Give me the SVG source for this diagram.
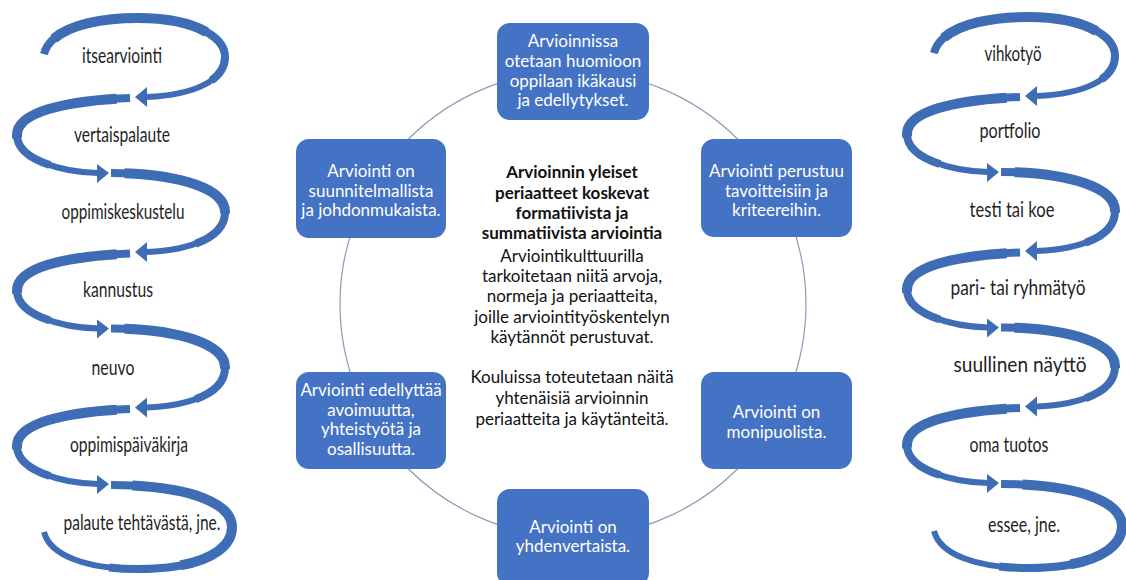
<svg xmlns="http://www.w3.org/2000/svg" xmlns:xlink="http://www.w3.org/1999/xlink" width="1126" height="580" viewBox="0 0 1126 580">
<style>
.w6{fill:none;stroke:#3f6db5;stroke-width:6;stroke-linecap:butt}
.w8{fill:none;stroke:#3f6db5;stroke-width:8;stroke-linecap:butt;stroke-dasharray:78 100}
.w10{fill:none;stroke:#3f6db5;stroke-width:10;stroke-linecap:butt;stroke-dasharray:0 6 52 100}
.head{fill:#3f6db5}
.lbl{font-family:Lato,"Open Sans","Liberation Sans",sans-serif;font-size:22px;fill:#1f1f1f;text-anchor:middle}
.box{fill:#4472c4}
.bt{font-family:Lato,"Liberation Sans",sans-serif;font-size:17px;fill:#ffffff;text-anchor:middle}
.ct{font-family:Lato,"Liberation Sans",sans-serif;font-size:17px;fill:#111111;text-anchor:middle}
.cb{font-weight:bold}
.ring{fill:none;stroke:#8a9bb8;stroke-width:1.2}
</style>
<defs>
<g id="ribs">
<path pathLength="100" d="M44,54 C50,30 90,18 138,18 C190,18 225,35 225,57 C225,80 195,95 147,97"/>
<path pathLength="100" d="M130,98 C75,100 17,110 17,135 C17,159 60,172 98,173"/>
<path pathLength="100" d="M111,173 C170,173 225,186 225,212 C225,238 190,250 147,252"/>
<path pathLength="100" d="M130,253.5 C75,255.5 17,265.5 17,290.5 C17,314.5 60,327.5 98,328.5"/>
<path pathLength="100" d="M111,328.5 C170,328.5 225,341.5 225,367.5 C225,393.5 190,405.5 147,407.5"/>
<path pathLength="100" d="M130,409 C75,411 17,421 17,446 C17,470 60,483 98,484"/>
<path pathLength="100" d="M111,485 C180,485 232,500 232,527 C232,553 195,569 138,569 C88,569 50,556 44,532"/>
</g>
<g id="spiral">
<use xlink:href="#ribs" href="#ribs" class="w6"/>
<use xlink:href="#ribs" href="#ribs" class="w8"/>
<use xlink:href="#ribs" href="#ribs" class="w10"/>
<polygon class="head" points="135,97 147,87 147,107"/>
<polygon class="head" points="109,173 97,164 97,183"/>
<polygon class="head" points="135,252 147,242 147,262"/>
<polygon class="head" points="109,328.5 97,319.5 97,338.5"/>
<polygon class="head" points="135,407.5 147,397.5 147,417.5"/>
<polygon class="head" points="109,484 97,475 97,494"/>
</g>
</defs>
<rect width="1126" height="580" fill="#ffffff"/>
<g id="connectors">
<circle class="ring" cx="573" cy="304" r="233"/>
<use xlink:href="#spiral" href="#spiral"/>
<use xlink:href="#spiral" href="#spiral" transform="translate(890,-1)"/>
</g>
<g id="left-labels">
<g id="l1"><text class="lbl" x="122" y="63" textLength="80" lengthAdjust="spacingAndGlyphs">itsearviointi</text></g>
<g id="l2"><text class="lbl" x="122" y="142" textLength="96" lengthAdjust="spacingAndGlyphs">vertaispalaute</text></g>
<g id="l3"><text class="lbl" x="123" y="219" textLength="123" lengthAdjust="spacingAndGlyphs">oppimiskeskustelu</text></g>
<g id="l4"><text class="lbl" x="118" y="297" textLength="70" lengthAdjust="spacingAndGlyphs">kannustus</text></g>
<g id="l5"><text class="lbl" x="113" y="375" textLength="43" lengthAdjust="spacingAndGlyphs">neuvo</text></g>
<g id="l6"><text class="lbl" x="129" y="452" textLength="118" lengthAdjust="spacingAndGlyphs">oppimispäiväkirja</text></g>
<g id="l7"><text class="lbl" x="142" y="530" textLength="157" lengthAdjust="spacingAndGlyphs">palaute tehtävästä, jne.</text></g>
</g>
<g id="right-labels">
<g id="r1"><text class="lbl" x="1013" y="61" textLength="57" lengthAdjust="spacingAndGlyphs">vihkotyö</text></g>
<g id="r2"><text class="lbl" x="1010" y="138" textLength="61" lengthAdjust="spacingAndGlyphs">portfolio</text></g>
<g id="r3"><text class="lbl" x="1012" y="217" textLength="85" lengthAdjust="spacingAndGlyphs">testi tai koe</text></g>
<g id="r4"><text class="lbl" x="1018" y="295" textLength="135" lengthAdjust="spacingAndGlyphs">pari- tai ryhmätyö</text></g>
<g id="r5"><text class="lbl" x="1020" y="372" textLength="133" lengthAdjust="spacingAndGlyphs">suullinen näyttö</text></g>
<g id="r6"><text class="lbl" x="1009" y="452" textLength="79" lengthAdjust="spacingAndGlyphs">oma tuotos</text></g>
<g id="r7"><text class="lbl" x="1024" y="532" textLength="72" lengthAdjust="spacingAndGlyphs">essee, jne.</text></g>
</g>
<g id="box-top">
<rect class="box" x="497" y="23" width="152" height="97" rx="13"/>
<text class="bt" x="573" y="47">Arvioinnissa</text>
<text class="bt" x="573" y="67">otetaan huomioon</text>
<text class="bt" x="573" y="87">oppilaan ikäkausi</text>
<text class="bt" x="573" y="106">ja edellytykset.</text>
</g>
<g id="box-upper-left">
<rect class="box" x="296" y="139" width="150" height="99" rx="13"/>
<text class="bt" x="371" y="177">Arviointi on</text>
<text class="bt" x="371" y="197">suunnitelmallista</text>
<text class="bt" x="371" y="216">ja johdonmukaista.</text>
</g>
<g id="box-upper-right">
<rect class="box" x="701" y="139" width="151" height="98" rx="13"/>
<text class="bt" x="776.5" y="177">Arviointi perustuu</text>
<text class="bt" x="776.5" y="197">tavoitteisiin ja</text>
<text class="bt" x="776.5" y="216">kriteereihin.</text>
</g>
<g id="box-lower-right">
<rect class="box" x="701" y="372" width="151" height="97" rx="13"/>
<text class="bt" x="776.5" y="418">Arviointi on</text>
<text class="bt" x="776.5" y="438">monipuolista.</text>
</g>
<g id="box-lower-left">
<rect class="box" x="296" y="372" width="150" height="97" rx="13"/>
<text class="bt" x="371" y="396">Arviointi edellyttää</text>
<text class="bt" x="371" y="415.5">avoimuutta,</text>
<text class="bt" x="371" y="435">yhteistyötä ja</text>
<text class="bt" x="371" y="454.5">osallisuutta.</text>
</g>
<g id="box-bottom">
<rect class="box" x="497" y="489" width="152" height="97" rx="13"/>
<text class="bt" x="573" y="533">Arviointi on</text>
<text class="bt" x="573" y="552">yhdenvertaista.</text>
</g>
<g id="center-text">
<text class="ct cb" x="572" y="178">Arvioinnin yleiset</text>
<text class="ct cb" x="572" y="199">periaatteet koskevat</text>
<text class="ct cb" x="572" y="219">formatiivista ja</text>
<text class="ct cb" x="572" y="239">summatiivista arviointia</text>
<text class="ct" x="572" y="262">Arviointikulttuurilla</text>
<text class="ct" x="572" y="282">tarkoitetaan niitä arvoja,</text>
<text class="ct" x="572" y="302">normeja ja periaatteita,</text>
<text class="ct" x="572" y="323">joille arviointityöskentelyn</text>
<text class="ct" x="572" y="343">käytännöt perustuvat.</text>
<text class="ct" x="572" y="383">Kouluissa toteutetaan näitä</text>
<text class="ct" x="572" y="404">yhtenäisiä arvioinnin</text>
<text class="ct" x="572" y="425">periaatteita ja käytänteitä.</text>
</g>
</svg>
